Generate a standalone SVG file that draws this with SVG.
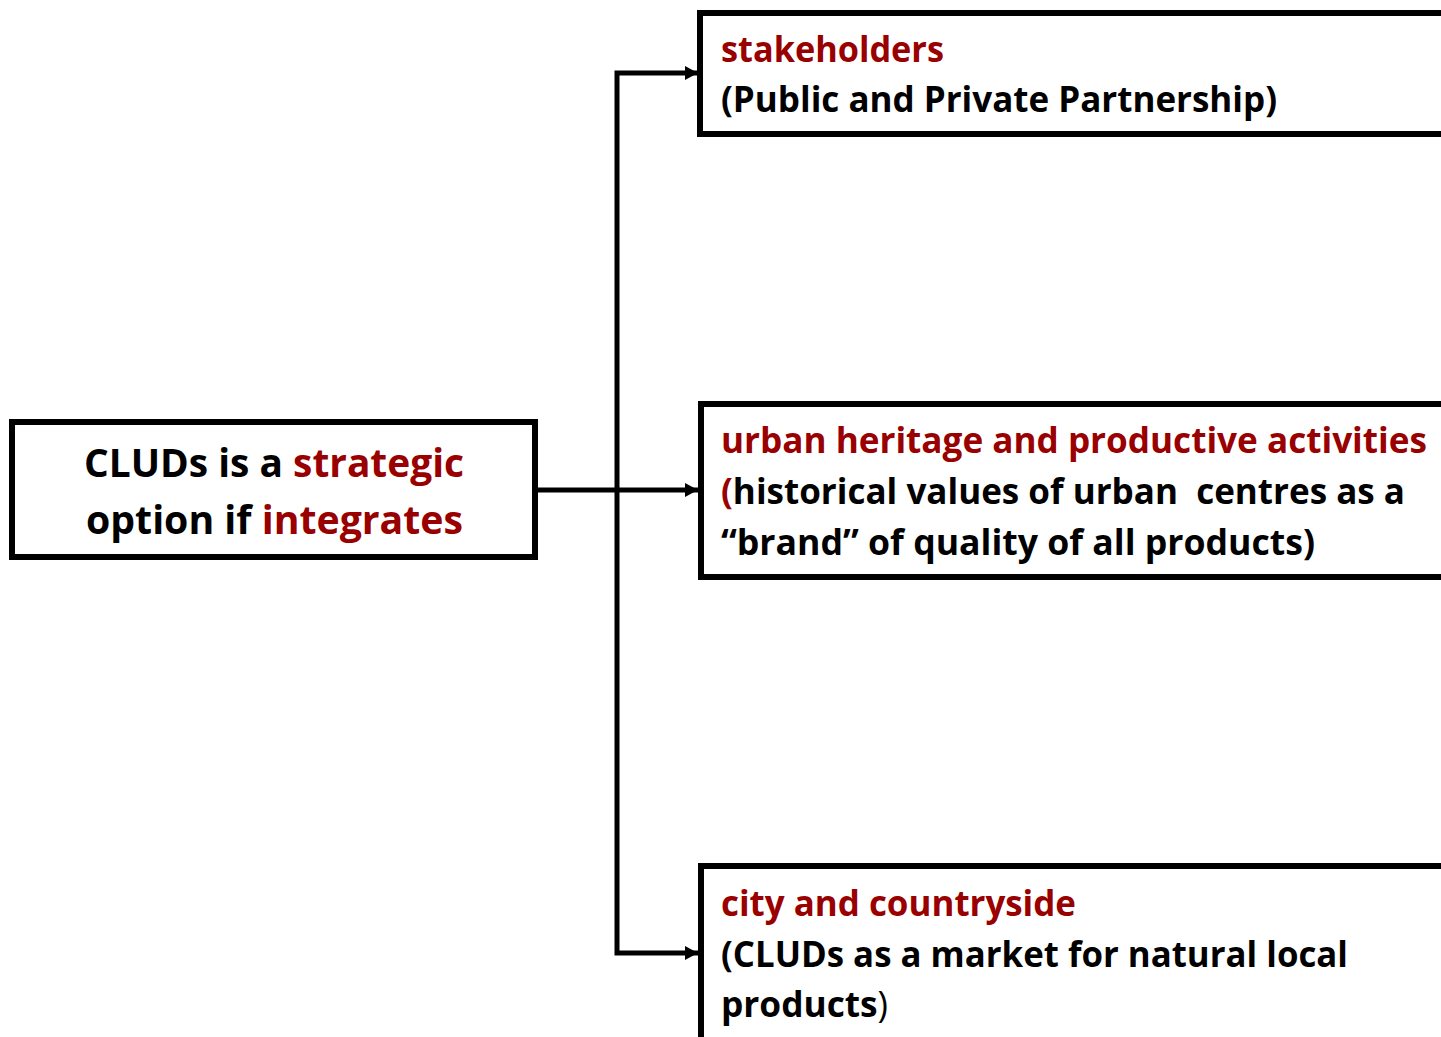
<svg xmlns="http://www.w3.org/2000/svg" width="1441" height="1037" viewBox="0 0 1441 1037">
<style>
.box{fill:#fff;stroke:#000;stroke-width:6}
.t{font-family:"Open Sans","Noto Sans","Liberation Sans",sans-serif;font-weight:bold;fill:#000}
.r{fill:#990000}
.c{fill:none;stroke:#000;stroke-width:5}
</style>
<defs>
<marker id="arr" markerUnits="userSpaceOnUse" markerWidth="16" markerHeight="16" refX="13" refY="7" orient="auto">
<path d="M0,0 L13,7 L0,14 Z" fill="#000"/>
</marker>
</defs>
<g id="connectors">
<path class="c" d="M535,490 H698" marker-end="url(#arr)"/>
<path class="c" d="M617,490 V73 H698" marker-end="url(#arr)"/>
<path class="c" d="M617,490 V953 H698" marker-end="url(#arr)"/>
</g>
<g id="node-main">
<rect class="box" x="12" y="422" width="523" height="135"/>
<text class="t" font-size="39" x="84" y="477" textLength="380" lengthAdjust="spacingAndGlyphs">CLUDs is a <tspan class="r">strategic</tspan></text>
<text class="t" font-size="39" x="86" y="534" textLength="377" lengthAdjust="spacingAndGlyphs">option if <tspan class="r">integrates</tspan></text>
</g>
<g id="node-stakeholders">
<rect class="box" x="700" y="13" width="800" height="121"/>
<text class="t r" font-size="36" x="721" y="62" textLength="223" lengthAdjust="spacingAndGlyphs">stakeholders</text>
<text class="t" font-size="36" x="721" y="112" textLength="556" lengthAdjust="spacingAndGlyphs">(Public and Private Partnership)</text>
</g>
<g id="node-heritage">
<rect class="box" x="701" y="404" width="800" height="173"/>
<text class="t r" font-size="36" x="721" y="453" textLength="706" lengthAdjust="spacingAndGlyphs">urban heritage and productive activities</text>
<text class="t" font-size="36" x="721" y="504" textLength="684" lengthAdjust="spacingAndGlyphs" xml:space="preserve"><tspan class="r">(</tspan>historical values of urban  centres as a</text>
<text class="t" font-size="36" x="721" y="555" textLength="594" lengthAdjust="spacingAndGlyphs">“brand” of quality of all products)</text>
</g>
<g id="node-city">
<rect class="box" x="701" y="866" width="800" height="300"/>
<text class="t r" font-size="36" x="721" y="916" textLength="355" lengthAdjust="spacingAndGlyphs">city and countryside</text>
<text class="t" font-size="36" x="721" y="967" textLength="627" lengthAdjust="spacingAndGlyphs">(CLUDs as a market for natural local</text>
<text class="t" font-size="36" x="721" y="1017" textLength="167" lengthAdjust="spacingAndGlyphs">products<tspan font-weight="normal">)</tspan></text>
</g>
</svg>
